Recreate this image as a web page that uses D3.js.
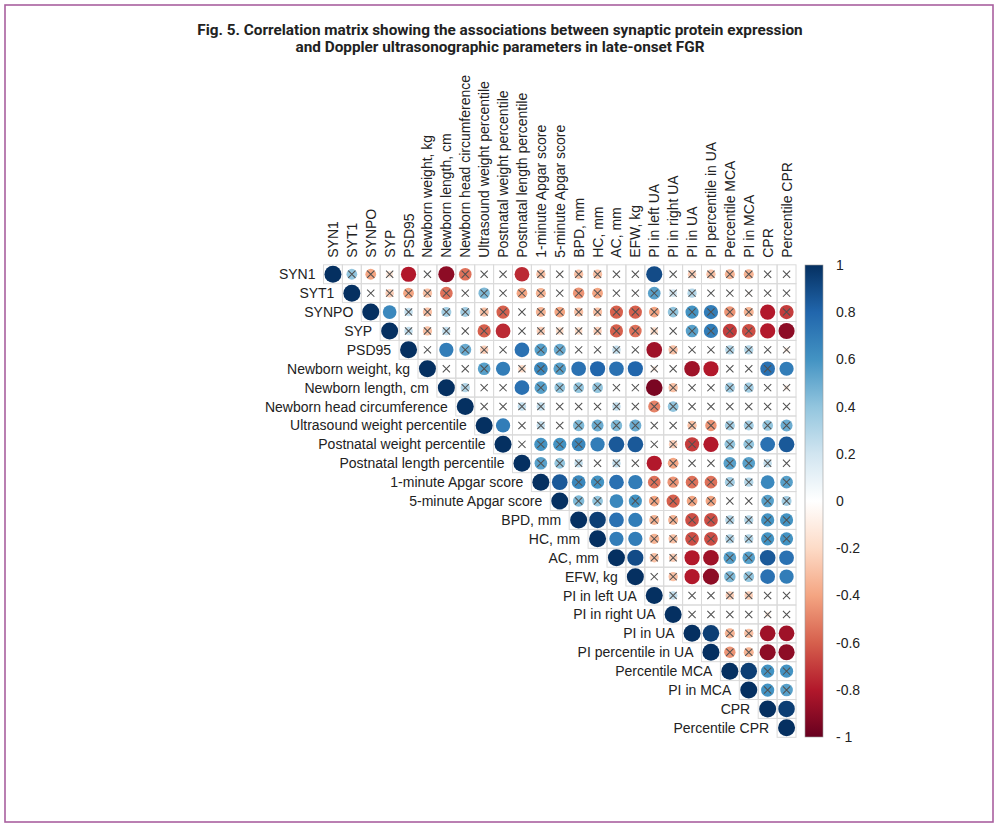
<!DOCTYPE html>
<html>
<head>
<meta charset="utf-8">
<script src="https://cdn.jsdelivr.net/npm/d3@7"></script>
<style>
  html, body { margin: 0; padding: 0; background: #fff; }
  svg { display: block; }
  .lbl { font-family: "Liberation Sans", Arial, sans-serif; font-size: 14px; fill: #222; }
</style>
</head>
<body>
<svg id="chart" width="1000" height="827"></svg>
<script>
// ---------------- DATA ----------------
const variables = [
  "SYN1", "SYT1", "SYNPO", "SYP", "PSD95",
  "Newborn weight, kg", "Newborn length, cm", "Newborn head circumference",
  "Ultrasound weight percentile", "Postnatal weight percentile", "Postnatal length percentile",
  "1-minute Apgar score", "5-minute Apgar score",
  "BPD, mm", "HC, mm", "AC, mm", "EFW, kg",
  "PI in left UA", "PI in right UA", "PI in UA", "PI percentile in UA",
  "Percentile MCA", "PI in MCA", "CPR", "Percentile CPR"
];

// Upper triangle: row i holds correlations with columns i+1 ... 24
const corrUpper = [
  [0.4, -0.4, -0.15, -0.8, 0.05, -0.9, -0.55, 0.05, 0, -0.75, -0.3, -0.05, -0.3, -0.3, 0, 0, 0.9, 0.05, -0.25, -0.3, -0.35, -0.35, 0, 0],
  [0, -0.25, -0.4, -0.3, -0.55, 0, 0.45, 0, -0.4, -0.35, 0, -0.45, -0.4, 0, 0, 0.55, 0.2, 0.3, 0.05, 0, -0.05, 0, 0],
  [0.65, 0.25, -0.3, 0.35, 0.35, -0.3, -0.6, 0, -0.35, -0.4, -0.3, -0.3, -0.6, -0.6, -0.4, 0.4, 0.6, 0.7, -0.45, -0.35, -0.8, -0.7],
  [0.25, -0.3, 0.25, 0, -0.6, -0.75, 0, -0.25, -0.2, -0.2, -0.25, -0.6, -0.55, -0.2, 0, 0.55, 0.7, -0.7, -0.65, -0.8, -0.9],
  [0, 0.7, 0.5, -0.25, 0, 0.75, 0.55, 0.5, 0, 0, 0.25, 0, -0.85, -0.3, 0, 0, 0.3, 0.3, 0, -0.1],
  [0, 0, 0.55, 0.7, -0.2, 0.65, 0.55, 0.75, 0.8, 0.75, 0.8, -0.1, 0, -0.85, -0.8, 0, 0, 0.75, 0.7],
  [0.3, 0, 0, 0.75, 0.55, 0.4, 0.4, 0.4, 0, 0, -0.95, -0.3, 0, 0, 0.35, 0.35, 0, -0.1],
  [0, 0, 0.25, 0.25, 0, 0, 0, 0.25, 0, -0.5, 0.4, 0, 0, 0, 0, 0, 0],
  [0.7, 0, 0.25, 0, 0.45, 0.5, 0.45, 0.5, 0, 0, -0.3, -0.45, 0.35, 0.35, 0.4, 0.5],
  [0, 0.6, 0.6, 0.65, 0.7, 0.85, 0.85, 0, -0.25, -0.7, -0.8, 0.4, 0.4, 0.75, 0.85],
  [0.55, 0.4, 0.25, 0, 0.25, 0, -0.8, -0.4, 0, 0, 0.55, 0.55, 0.25, 0],
  [0.85, 0.65, 0.6, 0.75, 0.7, -0.55, -0.45, -0.55, -0.55, 0.35, 0.3, 0.65, 0.55],
  [0.45, 0.4, 0.65, 0.6, -0.4, -0.6, -0.4, -0.4, 0, 0, 0.55, 0.35],
  [0.95, 0.75, 0.7, -0.35, -0.35, -0.65, -0.65, 0.3, 0.3, 0.6, 0.6],
  [0.7, 0.7, -0.35, -0.3, -0.65, -0.65, 0.3, 0.3, 0.6, 0.6],
  [0.9, -0.3, -0.25, -0.8, -0.85, 0.55, 0.55, 0.85, 0.75],
  [0, -0.3, -0.8, -0.9, 0.45, 0.4, 0.75, 0.7],
  [0.25, 0, 0, -0.25, -0.25, 0, 0],
  [0, 0, 0, 0, -0.1, 0],
  [0.95, -0.35, -0.3, -0.85, -0.85],
  [-0.45, -0.35, -0.9, -0.9],
  [0.95, 0.6, 0.6],
  [0.6, 0.55],
  [0.95]
];

// 1 = significant (no cross), 0 = not significant (crossed out); same shape as corrUpper
const sigUpper = [
  [0,0,0,1,0,1,0,0,0,1,0,0,0,0,0,0,1,0,0,0,0,0,0,0],
  [0,0,0,0,0,0,0,0,0,0,0,0,0,0,0,0,0,0,0,0,0,0,0],
  [1,0,0,0,0,0,0,0,0,0,0,0,0,0,0,0,0,0,0,0,1,0],
  [0,0,0,0,0,1,0,0,0,0,0,0,0,0,0,0,0,0,0,1,1],
  [0,1,0,0,0,1,0,0,0,0,0,0,1,0,0,0,0,0,0,0],
  [0,0,0,1,0,0,0,1,1,1,1,0,0,1,1,0,0,0,1],
  [0,0,0,1,0,0,0,0,0,0,1,0,0,0,0,0,0,0],
  [0,0,0,0,0,0,0,0,0,0,0,0,0,0,0,0,0],
  [1,0,0,0,0,0,0,0,0,0,0,0,0,0,0,0],
  [0,0,0,0,1,1,1,0,0,0,1,0,0,1,1],
  [0,0,0,0,0,0,1,0,0,0,0,0,0,0],
  [1,0,0,1,1,0,0,0,0,0,0,1,0],
  [0,0,1,0,0,0,0,0,0,0,0,0],
  [1,1,1,0,0,0,0,0,0,0,0],
  [1,1,0,0,0,0,0,0,0,0],
  [1,0,0,1,1,0,0,1,1],
  [0,0,1,1,0,0,1,1],
  [0,0,0,0,0,0,0],
  [0,0,0,0,0,0],
  [1,0,0,1,1],
  [0,0,1,1],
  [1,0,0],
  [0,0],
  [1]
];

const colorbarTicks = [1, 0.8, 0.6, 0.4, 0.2, 0, -0.2, -0.4, -0.6, -0.8, -1];
const colorbarTickLabels = ["1", "0.8", "0.6", "0.4", "0.2", "0", "-0.2", "-0.4", "-0.6", "-0.8", "- 1"];
const palette = ["#67001F", "#B2182B", "#D6604D", "#F4A582", "#FDDBC7", "#FFFFFF",
                 "#D1E5F0", "#92C5DE", "#4393C3", "#2166AC", "#053061"];
const titleLines = [
  "Fig. 5. Correlation matrix showing the associations between synaptic protein expression",
  "and Doppler ultrasonographic parameters in late-onset FGR"
];

// ---------------- LAYOUT ----------------
const svg = d3.select("#chart");
const n = variables.length;
const cell = 18.9;
const gx0 = 323.5, gy0 = 264.8;

const x = d3.scaleBand().domain(variables).range([gx0, gx0 + n * cell]).padding(0);
const y = d3.scaleBand().domain(variables).range([gy0, gy0 + n * cell]).padding(0);
const color = d3.scaleLinear().domain(d3.range(11).map(i => -1 + i * 0.2)).range(palette).clamp(true);

// Border frame
svg.append("rect")
  .attr("x", 5).attr("y", 5).attr("width", 988).attr("height", 817)
  .attr("fill", "none").attr("stroke", "#a9609f").attr("stroke-width", 1.6);

// Title
const title = svg.append("g");
const t1 = title.append("text").text(titleLines[0])
  .attr("x", 500).attr("y", 35).attr("text-anchor", "middle")
  .style("font-family", "Roboto, 'Liberation Sans', sans-serif").style("font-weight", "bold")
  .style("font-size", "13px").style("fill", "#222");
const targetW = 606;
const w0 = t1.node().getComputedTextLength();
const fs = 13 * targetW / w0;
t1.style("font-size", fs + "px");
title.append("text").text(titleLines[1])
  .attr("x", 500).attr("y", 52).attr("text-anchor", "middle")
  .style("font-family", "Roboto, 'Liberation Sans', sans-serif").style("font-weight", "bold")
  .style("font-size", fs + "px").style("fill", "#222");

// Build cell list from data
const cells = [];
variables.forEach((rv, i) => {
  cells.push({ r: rv, c: rv, v: 1, sig: 1 });
  corrUpper[i] && corrUpper[i].forEach((v, k) => {
    cells.push({ r: rv, c: variables[i + 1 + k], v: v, sig: sigUpper[i][k] });
  });
});

// Grid
svg.append("g").selectAll("rect").data(cells).join("rect")
  .attr("x", d => x(d.c)).attr("y", d => y(d.r))
  .attr("width", x.bandwidth()).attr("height", y.bandwidth())
  .attr("fill", "none").attr("stroke", "#dadada").attr("stroke-width", 1);

// Circles (area proportional to |r|)
svg.append("g").selectAll("circle").data(cells).join("circle")
  .attr("cx", d => x(d.c) + x.bandwidth() / 2)
  .attr("cy", d => y(d.r) + y.bandwidth() / 2)
  .attr("r", d => 0.45 * Math.sqrt(Math.abs(d.v)) * cell)
  .attr("fill", d => color(d.v));

// Crosses for non-significant
const cs = 3.6;
const crossG = svg.append("g").attr("stroke", "#505050").attr("stroke-width", 1.05);
cells.filter(d => !d.sig).forEach(d => {
  const cx = x(d.c) + x.bandwidth() / 2, cy = y(d.r) + y.bandwidth() / 2;
  crossG.append("path").attr("d", `M${cx - cs},${cy - cs}L${cx + cs},${cy + cs}M${cx - cs},${cy + cs}L${cx + cs},${cy - cs}`);
});

// Row labels (left of diagonal)
svg.append("g").selectAll("text").data(variables).join("text")
  .attr("class", "lbl")
  .attr("x", d => x(d) - 8)
  .attr("y", d => y(d) + y.bandwidth() / 2)
  .attr("dy", "0.36em")
  .attr("text-anchor", "end")
  .text(d => d);

// Column labels (rotated, above grid)
svg.append("g").selectAll("text").data(variables).join("text")
  .attr("class", "lbl")
  .attr("transform", d => `translate(${x(d) + x.bandwidth() / 2},${gy0 - 7}) rotate(-90)`)
  .attr("dy", "0.36em")
  .attr("text-anchor", "start")
  .text(d => d);

// Colorbar
const cbX = 805, cbW = 18;
const cbScale = d3.scaleLinear().domain([-1, 1]).range([737, 265]);
const defs = svg.append("defs");
const grad = defs.append("linearGradient").attr("id", "cbgrad")
  .attr("x1", 0).attr("y1", 1).attr("x2", 0).attr("y2", 0);
palette.forEach((c, i) => grad.append("stop").attr("offset", (i / 10)).attr("stop-color", c));
svg.append("rect")
  .attr("x", cbX).attr("y", cbScale(1)).attr("width", cbW).attr("height", cbScale(-1) - cbScale(1))
  .attr("fill", "url(#cbgrad)").attr("stroke", "#9a9a9a").attr("stroke-width", 0.6);
svg.append("g").selectAll("text").data(colorbarTicks).join("text")
  .attr("class", "lbl")
  .attr("x", 836)
  .attr("y", (d) => cbScale(d))
  .attr("dy", "0.36em")
  .text((d, i) => colorbarTickLabels[i]);
</script>
</body>
</html>
